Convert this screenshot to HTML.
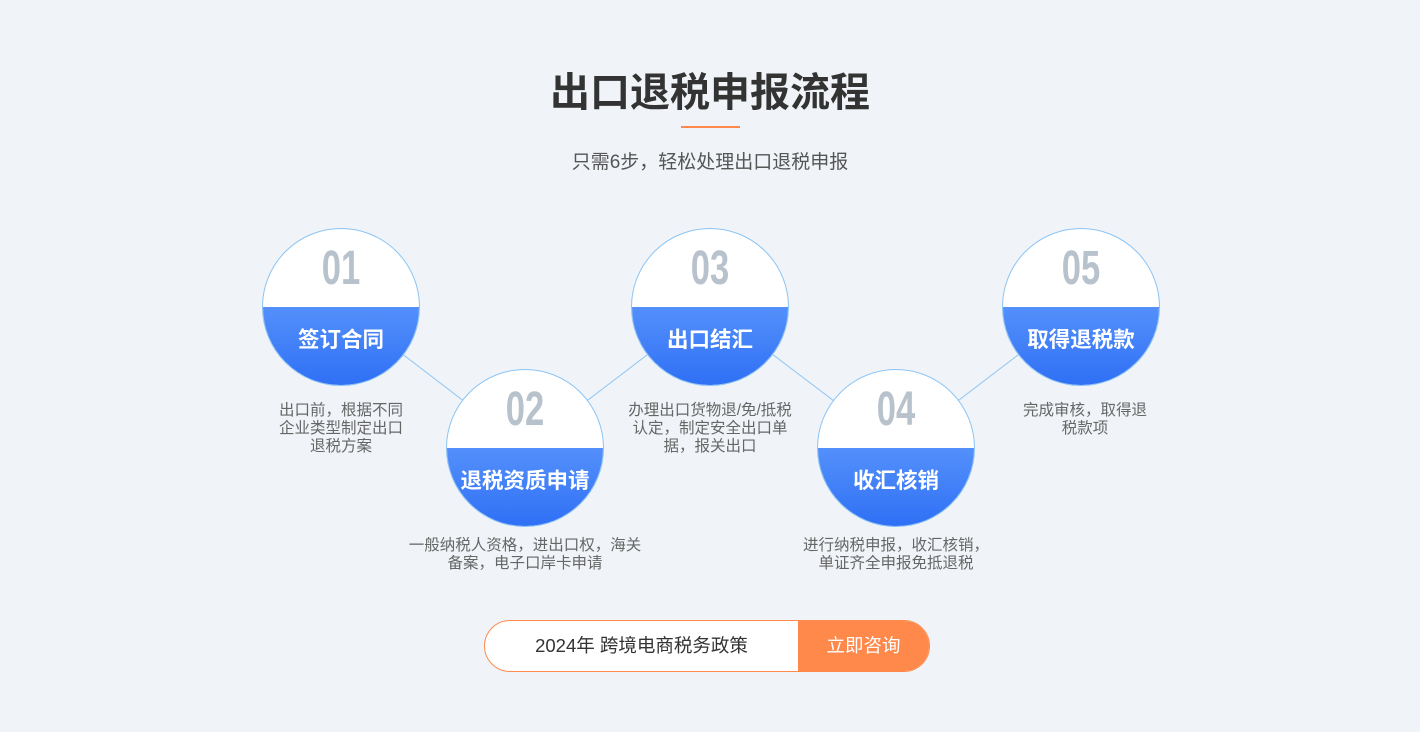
<!DOCTYPE html>
<html><head><meta charset="utf-8"><style>
body{margin:0;width:1420px;height:732px;background:#f0f4f8;position:relative;overflow:hidden;font-family:"Liberation Sans","Noto Sans CJK SC",sans-serif}
.a{position:absolute}
.t{left:0;width:1420px;text-align:center}
.c{position:absolute;width:156px;height:156px;border-radius:50%;border:1px solid #8cc4f4;overflow:hidden;background:#fff}
.c .b{position:absolute;left:0;top:78px;width:156px;height:78px;background:linear-gradient(#5490fb,#2f70f5)}
.c .n{position:absolute;left:0;top:12px;width:156px;text-align:center;font-size:48px;font-weight:bold;color:#b8c2cc;transform:scaleX(0.72);font-family:"Liberation Sans Narrow","Liberation Sans",sans-serif}
.c .l{position:absolute;left:0;top:94px;width:156px;text-align:center;font-size:21.5px;font-weight:bold;color:#fff}
.d{position:absolute;width:260px;text-align:center;font-size:15.5px;line-height:18px;color:#666}
</style></head><body>
<div class="a t" style="top:60px;font-size:40px;font-weight:bold;color:#333">出口退税申报流程</div>
<div class="a" style="left:681px;top:126px;width:59px;height:2px;background:#ff8a4c"></div>
<div class="a t" style="top:147px;font-size:19px;color:#555">只需6步，轻松处理出口退税申报</div>
<svg class="a" style="left:0;top:0" width="1420" height="732"><polyline points="341,307 525,448 710,307 896,448 1081,307" fill="none" stroke="#8ec5f5" stroke-width="1"/></svg>
<div class="c" style="left:262px;top:228px"><div class="b"></div><div class="n">01</div><div class="l">签订合同</div></div>
<div class="c" style="left:446px;top:369px"><div class="b"></div><div class="n">02</div><div class="l">退税资质申请</div></div>
<div class="c" style="left:631px;top:228px"><div class="b"></div><div class="n">03</div><div class="l">出口结汇</div></div>
<div class="c" style="left:817px;top:369px"><div class="b"></div><div class="n">04</div><div class="l">收汇核销</div></div>
<div class="c" style="left:1002px;top:228px"><div class="b"></div><div class="n">05</div><div class="l">取得退税款</div></div>
<div class="d" style="left:211px;top:402px;">出口前，根据不同<br>企业类型制定出口<br>退税方案</div>
<div class="d" style="left:385px;top:537px;width:280px">一般纳税人资格，进出口权，海关<br>备案，电子口岸卡申请</div>
<div class="d" style="left:580px;top:402px;">办理出口货物退/免/抵税<br>认定，制定安全出口单<br>据，报关出口</div>
<div class="d" style="left:766px;top:537px;">进行纳税申报，收汇核销，<br>单证齐全申报免抵退税</div>
<div class="d" style="left:955px;top:402px;">完成审核，取得退<br>税款项</div>
<div class="a" style="left:484px;top:620px;width:444px;height:50px;border:1px solid #ff8a4c;border-radius:26px;background:#fff;overflow:hidden">
<div class="a" style="left:0;top:0;width:313px;height:50px;line-height:50px;text-align:center;font-size:18.5px;color:#333">2024年 跨境电商税务政策</div>
<div class="a" style="left:313px;top:0;width:131px;height:50px;line-height:50px;text-align:center;font-size:18.5px;color:#fff;background:#ff884b">立即咨询</div>
</div>
</body></html>
